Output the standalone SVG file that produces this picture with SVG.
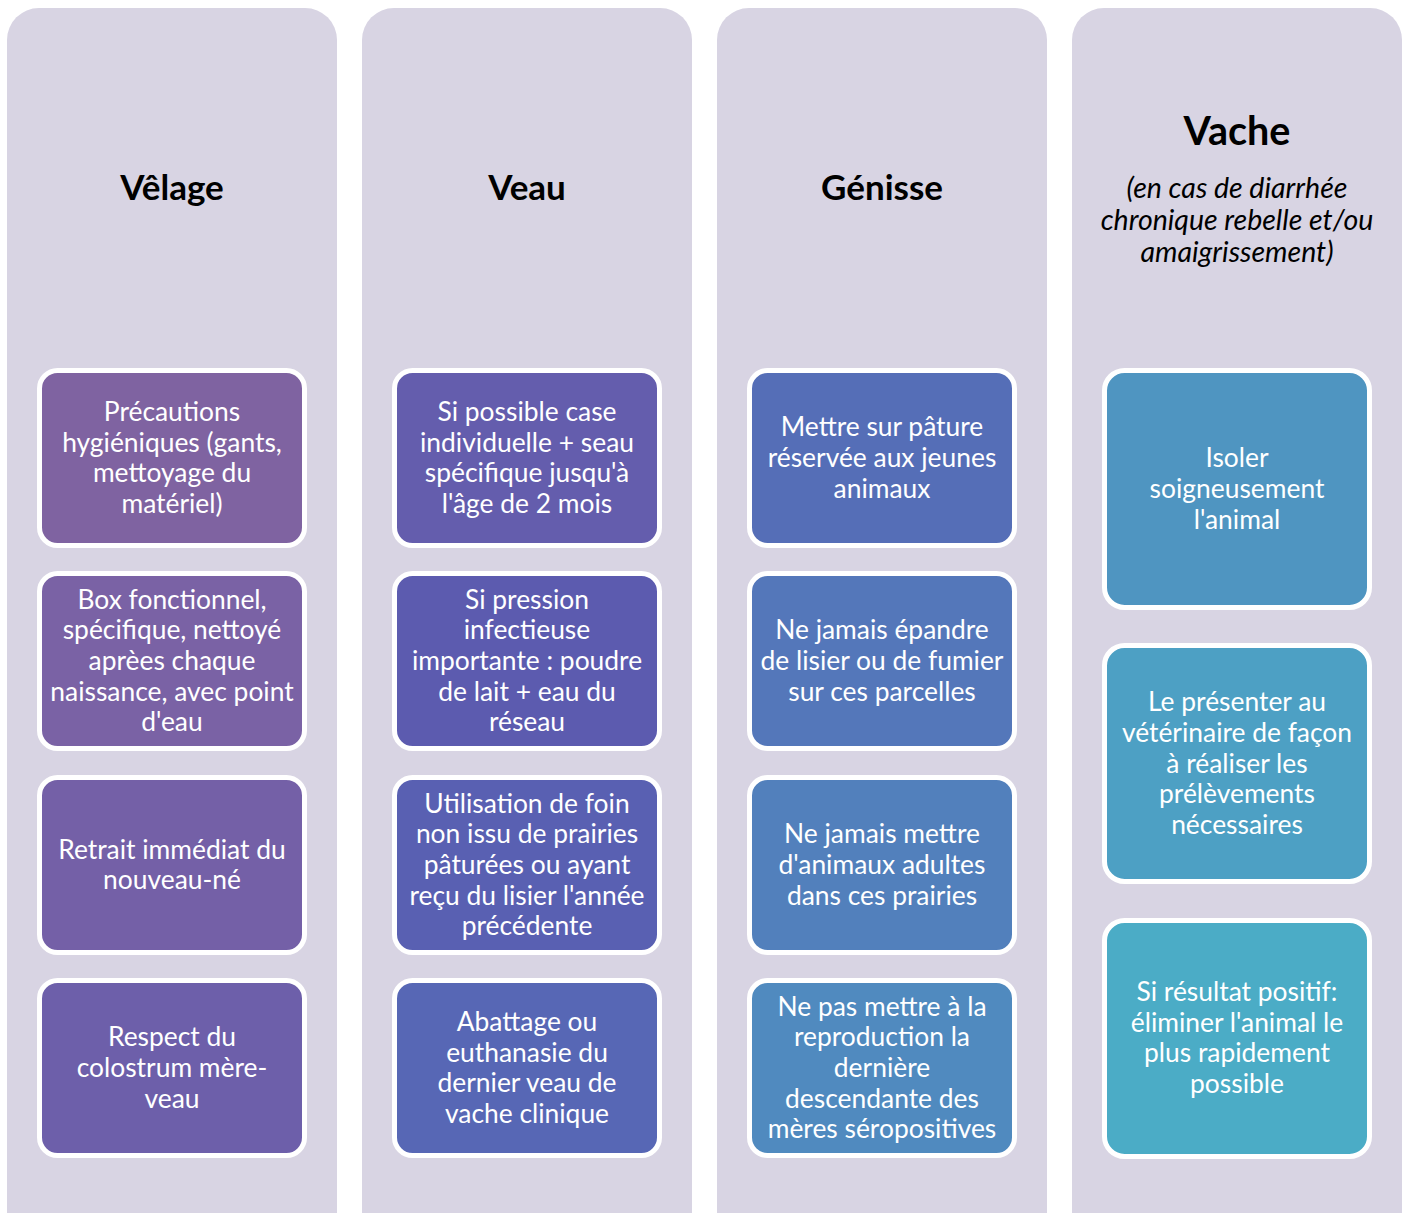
<svg xmlns="http://www.w3.org/2000/svg" width="1407" height="1213" viewBox="0 0 1407 1213">
<style>
.col{fill:#D8D4E3}
.box{stroke:#FFFFFF;stroke-width:5}
.t{font-family:Lato,"Liberation Sans",sans-serif;font-size:26.4px;fill:#FFFFFF;text-anchor:middle}
.h{font-family:Lato,"Liberation Sans",sans-serif;font-size:35px;font-weight:bold;fill:#000000;text-anchor:middle}
.hv{font-size:39.5px}
.s{font-family:Lato,"Liberation Sans",sans-serif;font-size:28.5px;font-style:italic;fill:#000000;text-anchor:middle}
</style>
<rect width="1407" height="1213" fill="#FFFFFF"/>
<g id="col-velage">
<rect class="col" x="7" y="8" width="330" height="1240" rx="32"/>
<text class="h" x="172" y="200">Vêlage</text>
</g>
<g id="col-veau">
<rect class="col" x="362" y="8" width="330" height="1240" rx="32"/>
<text class="h" x="527" y="200">Veau</text>
</g>
<g id="col-genisse">
<rect class="col" x="717" y="8" width="330" height="1240" rx="32"/>
<text class="h" x="882" y="200">Génisse</text>
</g>
<g id="col-vache">
<rect class="col" x="1072" y="8" width="330" height="1240" rx="32"/>
<text class="h hv" x="1237" y="145">Vache</text>
<text class="s" x="1237" y="198">(en cas de diarrhée<tspan x="1237" dy="32">chronique rebelle et/ou</tspan><tspan x="1237" dy="32">amaigrissement)</tspan></text>
</g>
<g id="connectors"></g>
<g id="n1"><rect class="box" x="39.5" y="370.5" width="265" height="175" rx="18" fill="hsl(267,25%,51%)"/>
<text class="t" x="172" y="421">Précautions<tspan x="172" dy="30.7">hygiéniques (gants,</tspan><tspan x="172" dy="30.7">mettoyage du</tspan><tspan x="172" dy="30.7">matériel)</tspan></text></g>
<g id="n2"><rect class="box" x="39.5" y="573.5" width="265" height="175" rx="18" fill="hsl(261.8,26.9%,51.5%)"/>
<text class="t" x="172" y="608.6">Box fonctionnel,<tspan x="172" dy="30.7">spécifique, nettoyé</tspan><tspan x="172" dy="30.7">aprèes chaque</tspan><tspan x="172" dy="30.7">naissance, avec point</tspan><tspan x="172" dy="30.7">d'eau</tspan></text></g>
<g id="n3"><rect class="box" x="39.5" y="777.5" width="265" height="175" rx="18" fill="hsl(256.5,28.8%,51.7%)"/>
<text class="t" x="172" y="858.65">Retrait immédiat du<tspan x="172" dy="30.7">nouveau-né</tspan></text></g>
<g id="n4"><rect class="box" x="39.5" y="980.5" width="265" height="175" rx="18" fill="hsl(251.2,30.8%,51.9%)"/>
<text class="t" x="172" y="1046.3">Respect du<tspan x="172" dy="30.7">colostrum mère-</tspan><tspan x="172" dy="30.7">veau</tspan></text></g>
<g id="n5"><rect class="box" x="394.5" y="370.5" width="265" height="175" rx="18" fill="hsl(245.8,32.7%,52%)"/>
<text class="t" x="527" y="421">Si possible case<tspan x="527" dy="30.7">individuelle + seau</tspan><tspan x="527" dy="30.7">spécifique jusqu'à</tspan><tspan x="527" dy="30.7">l'âge de 2 mois</tspan></text></g>
<g id="n6"><rect class="box" x="394.5" y="573.5" width="265" height="175" rx="18" fill="hsl(240.5,34.6%,52.2%)"/>
<text class="t" x="527" y="608.6">Si pression<tspan x="527" dy="30.7">infectieuse</tspan><tspan x="527" dy="30.7">importante : poudre</tspan><tspan x="527" dy="30.7">de lait + eau du</tspan><tspan x="527" dy="30.7">réseau</tspan></text></g>
<g id="n7"><rect class="box" x="394.5" y="777.5" width="265" height="175" rx="18" fill="hsl(235.2,36.5%,52.3%)"/>
<text class="t" x="527" y="812.6">Utilisation de foin<tspan x="527" dy="30.7">non issu de prairies</tspan><tspan x="527" dy="30.7">pâturées ou ayant</tspan><tspan x="527" dy="30.7">reçu du lisier l'année</tspan><tspan x="527" dy="30.7">précédente</tspan></text></g>
<g id="n8"><rect class="box" x="394.5" y="980.5" width="265" height="175" rx="18" fill="hsl(229.9,38.5%,52.5%)"/>
<text class="t" x="527" y="1031">Abattage ou<tspan x="527" dy="30.7">euthanasie du</tspan><tspan x="527" dy="30.7">dernier veau de</tspan><tspan x="527" dy="30.7">vache clinique</tspan></text></g>
<g id="n9"><rect class="box" x="749.5" y="370.5" width="265" height="175" rx="18" fill="hsl(224.6,40.4%,52.6%)"/>
<text class="t" x="882" y="436.3">Mettre sur pâture<tspan x="882" dy="30.7">réservée aux jeunes</tspan><tspan x="882" dy="30.7">animaux</tspan></text></g>
<g id="n10"><rect class="box" x="749.5" y="573.5" width="265" height="175" rx="18" fill="hsl(219.3,42.3%,52.8%)"/>
<text class="t" x="882" y="639.3">Ne jamais épandre<tspan x="882" dy="30.7">de lisier ou de fumier</tspan><tspan x="882" dy="30.7">sur ces parcelles</tspan></text></g>
<g id="n11"><rect class="box" x="749.5" y="777.5" width="265" height="175" rx="18" fill="hsl(214,44.2%,53%)"/>
<text class="t" x="882" y="843.3">Ne jamais mettre<tspan x="882" dy="30.7">d'animaux adultes</tspan><tspan x="882" dy="30.7">dans ces prairies</tspan></text></g>
<g id="n12"><rect class="box" x="749.5" y="980.5" width="265" height="175" rx="18" fill="hsl(208.6,46.1%,53.1%)"/>
<text class="t" x="882" y="1015.6">Ne pas mettre à la<tspan x="882" dy="30.7">reproduction la</tspan><tspan x="882" dy="30.7">dernière</tspan><tspan x="882" dy="30.7">descendante des</tspan><tspan x="882" dy="30.7">mères séropositives</tspan></text></g>
<g id="n13"><rect class="box" x="1104.5" y="370.5" width="265" height="237" rx="20" fill="hsl(203.3,48.1%,53.3%)"/>
<text class="t" x="1237" y="467.3">Isoler<tspan x="1237" dy="30.7">soigneusement</tspan><tspan x="1237" dy="30.7">l'animal</tspan></text></g>
<g id="n14"><rect class="box" x="1104.5" y="645.5" width="265" height="236" rx="20" fill="hsl(198,50%,53.4%)"/>
<text class="t" x="1237" y="711.1">Le présenter au<tspan x="1237" dy="30.7">vétérinaire de façon</tspan><tspan x="1237" dy="30.7">à réaliser les</tspan><tspan x="1237" dy="30.7">prélèvements</tspan><tspan x="1237" dy="30.7">nécessaires</tspan></text></g>
<g id="n15"><rect class="box" x="1104.5" y="920.5" width="265" height="236" rx="20" fill="hsl(192.7,51.9%,53.5%)"/>
<text class="t" x="1237" y="1001">Si résultat positif:<tspan x="1237" dy="30.7">éliminer l'animal le</tspan><tspan x="1237" dy="30.7">plus rapidement</tspan><tspan x="1237" dy="30.7">possible</tspan></text></g>
</svg>
